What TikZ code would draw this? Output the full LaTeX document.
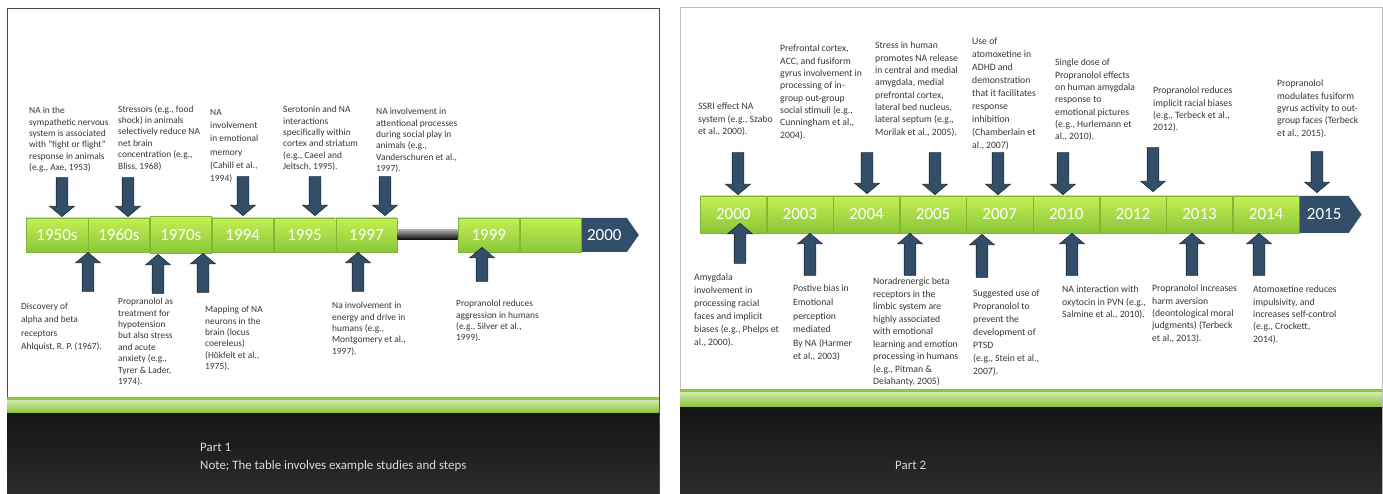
\documentclass[tikz,border=0pt]{standalone}
\usepackage{fontspec}
\setmainfont{Carlito}
\usepackage{tikz}
\usetikzlibrary{shapes, shapes.arrows, shapes.symbols, positioning}

\definecolor{tlblue}{RGB}{50,78,104}
\definecolor{tledge}{RGB}{28,42,56}
\definecolor{limetop}{RGB}{196,240,82}
\definecolor{limebot}{RGB}{138,198,58}
\definecolor{limeedge}{RGB}{128,182,52}
\definecolor{notegray}{RGB}{55,55,55}
\definecolor{bandgreen}{RGB}{141,198,63}
\definecolor{bandlight}{RGB}{214,236,184}
\definecolor{foottop}{RGB}{20,20,20}
\definecolor{footbot}{RGB}{44,44,44}

\begin{document}
\begin{tikzpicture}[x=1pt,y=-1pt]
\tikzstyle{tl_seg}=[rectangle, draw=limeedge, top color=limetop, bottom color=limebot,
	minimum width=61.5pt, minimum height=34pt, inner sep=0pt, text=white,
	font=\fontsize{17}{17}\selectfont]
\tikzstyle{tl_segb}=[tl_seg, minimum width=66.2pt, minimum height=37pt]
\tikzstyle{tl_end}=[signal, signal to=east, fill=tlblue, text=white, inner sep=0pt,
	minimum width=57pt, minimum height=34pt, signal pointer angle=110,
	font=\fontsize{17}{17}\selectfont]
\tikzstyle{tl_gap}=[rectangle, top color=gray!70, bottom color=black, minimum width=60pt,
	minimum height=10pt, inner sep=0pt]
\tikzstyle{tl_down}=[single arrow, draw=tledge, fill=tlblue, rotate=-90, anchor=tip,
	inner sep=5.5pt, single arrow head extend=6.5pt, single arrow tip angle=100,
	minimum height=39pt, minimum width=0pt, line width=0.6pt]
\tikzstyle{tl_up}=[tl_down, rotate=180]
\tikzstyle{tl_note}=[anchor=north west, align=left, inner sep=0pt, text=notegray,
	font=\fontsize{9.4}{11.4}\selectfont]
\tikzstyle{tl_foot}=[anchor=west, inner sep=0pt, text=white!85!black,
	font=\fontsize{12.9}{14}\selectfont]

\useasboundingbox (0,0) rectangle (1383,494);

% part 1
\draw[draw=black!70, fill=white, line width=0.8pt] (7,8) rectangle (659,494);
\shade[top color=foottop, bottom color=footbot] (7,412) rectangle (659,494);
\shade[top color=bandlight, bottom color=bandgreen] (7,399) rectangle (659,412);
\fill[bandgreen] (7,397) rectangle (659,399.5);
\node at (200,447) [tl_foot] (part1) {Part 1};
\node at (200,466) [tl_foot] (note1) {Note; The table involves example studies and steps};

\node at (26,235) [tl_seg, anchor=west] (s1950) {1950s};
\node [tl_seg, right=0pt of s1950] (s1960) {1960s};
\node [tl_seg, right=0pt of s1960, minimum height=37pt] (s1970) {1970s};
\node [tl_seg, right=0pt of s1970] (s1994) {1994};
\node [tl_seg, right=0pt of s1994] (s1995) {1995};
\node [tl_seg, right=0pt of s1995] (s1997) {1997};
\node [tl_gap, right=0pt of s1997] (gap) {};
\node [tl_seg, right=0pt of gap] (s1999) {1999};
\node [tl_seg, right=0pt of s1999] (sblank) {};
\node [tl_end, right=0pt of sblank] (s2000) {2000};

\node at (62,217) [tl_down] (d1950) {};
\node at (128,217) [tl_down] (d1960) {};
\node at (243,216) [tl_down] (d1994) {};
\node at (315,216) [tl_down] (d1995) {};
\node at (385,216) [tl_down] (d1997) {};
\node at (88,252) [tl_up] (u1950) {};
\node at (158,254) [tl_up] (u1970a) {};
\node at (203,253) [tl_up] (u1970b) {};
\node at (358,252) [tl_up] (u1997) {};
\node at (482,247) [tl_up, minimum height=34pt] (u1999) {};

\node at (29,107) [tl_note] (n1950) {NA in the\\sympathetic nervous\\system is associated\\with "fight or flight"\\response in animals\\(e.g., Axe, 1953)};
\node at (118,105) [tl_note] (n1960) {Stressors (e.g., food\\shock) in animals\\selectively reduce NA\\net brain\\concentration (e.g.,\\Bliss, 1968)};
\node at (210,109) [tl_note, font=\fontsize{9.4}{13.3}\selectfont] (n1994) {NA\\involvement\\in emotional\\memory\\(Cahill et al.,\\1994)};
\node at (283,106) [tl_note] (n1995) {Serotonin and NA\\interactions\\specifically within\\cortex and striatum\\(e.g., Caeel and\\Jeltsch, 1995).};
\node at (376,108) [tl_note] (n1997) {NA involvement in\\attentional processes\\during social play in\\animals (e.g.,\\Vanderschuren et al.,\\1997).};
\node at (21,303) [tl_note, font=\fontsize{9.4}{13.3}\selectfont] (m1967) {Discovery of\\alpha and beta\\receptors\\Ahlquist, R. P. (1967).};
\node at (118,298) [tl_note] (m1974) {Propranolol as\\treatment for\\hypotension\\but also stress\\and acute\\anxiety (e.g.,\\Tyrer \& Lader,\\1974).};
\node at (205,306) [tl_note] (m1975) {Mapping of NA\\neurons in the\\brain (locus\\coereleus)\\(Hökfelt et al.,\\1975).};
\node at (332,302) [tl_note] (m1997) {Na involvement in\\energy and drive in\\humans (e.g.,\\Montgomery et al.,\\1997).};
\node at (456,300) [tl_note] (m1999) {Propranolol reduces\\aggression in humans\\(e.g., Silver et al.,\\1999).};

% part 2
\draw[draw=black!25, fill=white, line width=0.8pt] (680,7) rectangle (1382,494);
\shade[top color=foottop, bottom color=footbot] (680,406) rectangle (1382,494);
\shade[top color=bandlight, bottom color=bandgreen] (680,391) rectangle (1382,406);
\fill[bandgreen] (680,389) rectangle (1382,391.5);
\node at (895,465) [tl_foot] (part2) {Part 2};

\node at (700,214.5) [tl_segb, anchor=west] (r2000) {2000};
\node [tl_segb, right=0pt of r2000] (r2003) {2003};
\node [tl_segb, right=0pt of r2003] (r2004) {2004};
\node [tl_segb, right=0pt of r2004] (r2005) {2005};
\node [tl_segb, right=0pt of r2005] (r2007) {2007};
\node [tl_segb, right=0pt of r2007] (r2010) {2010};
\node [tl_segb, right=0pt of r2010] (r2012) {2012};
\node [tl_segb, right=0pt of r2012] (r2013) {2013};
\node [tl_segb, right=0pt of r2013] (r2014) {2014};
\node [tl_end, right=0pt of r2014, minimum width=62pt, minimum height=37pt] (r2015) {2015};

\node at (738,195) [tl_down, minimum height=42pt] (dr2000) {};
\node at (867,194) [tl_down, minimum height=41pt] (dr2004) {};
\node at (935,195) [tl_down, minimum height=42pt] (dr2005) {};
\node at (998,195) [tl_down, minimum height=42pt] (dr2007) {};
\node at (1063,195) [tl_down, minimum height=42pt] (dr2010) {};
\node at (1153,192) [tl_down, minimum height=44pt] (dr2012) {};
\node at (1317,193) [tl_down, minimum height=41pt] (dr2015) {};
\node at (740,223) [tl_up, minimum height=40pt] (ur2000) {};
\node at (810,233) [tl_up, minimum height=42pt] (ur2003) {};
\node at (910,233) [tl_up, minimum height=42pt] (ur2005) {};
\node at (982,234) [tl_up, minimum height=43pt] (ur2007) {};
\node at (1072,233) [tl_up, minimum height=42pt] (ur2010) {};
\node at (1192,233) [tl_up, minimum height=42pt] (ur2013) {};
\node at (1259,233) [tl_up, minimum height=42pt] (ur2014) {};

\tikzstyle{tl_noteb}=[tl_note, font=\fontsize{9.7}{12.3}\selectfont]
\node at (698,103) [tl_noteb] (nr2000) {SSRI effect NA\\system (e.g., Szabo\\et al., 2000).};
\node at (780,45) [tl_noteb] (nr2004) {Prefrontal cortex,\\ACC, and fusiform\\gyrus involvement in\\processing of in-\\group out-group\\social stimuli (e.g.,\\Cunningham et al.,\\2004).};
\node at (875,42) [tl_noteb] (nr2005) {Stress in human\\promotes NA release\\in central and medial\\amygdala, medial\\prefrontal cortex,\\lateral bed nucleus,\\lateral septum (e.g.,\\Morilak et al., 2005).};
\node at (972,38) [tl_noteb, font=\fontsize{9.7}{13}\selectfont] (nr2007) {Use of\\atomoxetine in\\ADHD and\\demonstration\\that it facilitates\\response\\inhibition\\(Chamberlain et\\al., 2007)};
\node at (1055,59) [tl_noteb] (nr2010) {Single dose of\\Propranolol effects\\on human amygdala\\response to\\emotional pictures\\(e.g., Hurlemann et\\al., 2010).};
\node at (1153,87) [tl_noteb] (nr2012) {Propranolol reduces\\implicit racial biases\\(e.g., Terbeck et al.,\\2012).};
\node at (1277,80) [tl_noteb] (nr2015) {Propranolol\\modulates fusiform\\gyrus activity to out-\\group faces (Terbeck\\et al., 2015).};
\node at (694,274) [tl_noteb, font=\fontsize{9.7}{13}\selectfont] (mr2000) {Amygdala\\involvement in\\processing racial\\faces and implicit\\biases (e.g., Phelps et\\al., 2000).};
\node at (793,285) [tl_noteb, font=\fontsize{9.7}{13.6}\selectfont] (mr2003) {Postive bias in\\Emotional\\perception\\mediated\\By NA (Harmer\\et al., 2003)};
\node at (873,278) [tl_noteb, font=\fontsize{9.7}{12.5}\selectfont] (mr2005) {Noradrenergic beta\\receptors in the\\limbic system are\\highly associated\\with emotional\\learning and emotion\\processing in humans\\(e.g., Pitman \&\\Delahanty, 2005)};
\node at (973,290) [tl_noteb, font=\fontsize{9.7}{13}\selectfont] (mr2007) {Suggested use of\\Propranolol to\\prevent the\\development of\\PTSD\\(e.g., Stein et al.,\\2007).};
\node at (1062,286) [tl_noteb] (mr2010) {NA interaction with\\oxytocin in PVN (e.g.,\\Salmine et al., 2010).};
\node at (1152,285) [tl_noteb] (mr2013) {Propranolol increases\\harm aversion\\(deontological moral\\judgments) (Terbeck\\et al., 2013).};
\node at (1253,286) [tl_noteb] (mr2014) {Atomoxetine reduces\\impulsivity, and\\increases self-control\\(e.g., Crockett,\\2014).};

\end{tikzpicture}
\end{document}
